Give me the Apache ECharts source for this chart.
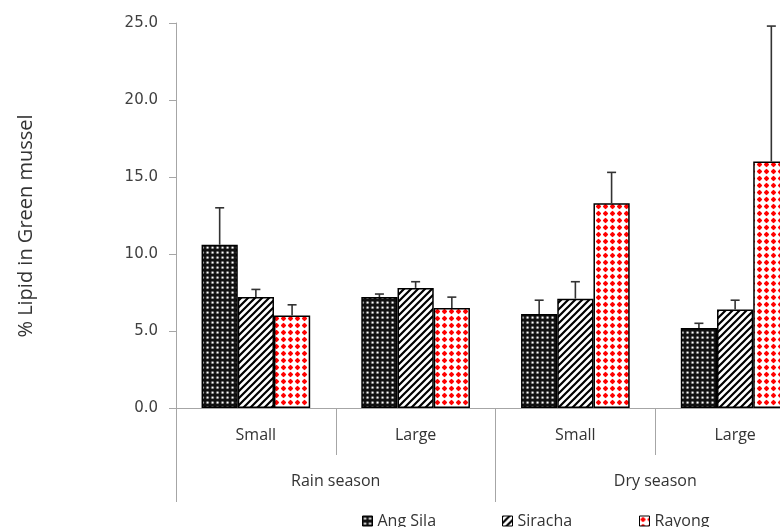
<!DOCTYPE html>
<html>
<head>
<meta charset="utf-8">
<script src="https://cdn.jsdelivr.net/npm/echarts@6/dist/echarts.min.js"></script>
<style>
  html, body { margin: 0; padding: 0; background: #fff; overflow: hidden; }
  #chart { width: 840px; height: 527px; }
</style>
</head>
<body>
<div id="chart"></div>
<script>
// Mussel lipid content by season and size class
const sizeClasses = ['Small', 'Large', 'Small', 'Large'];
const seasons = ['Rain season', 'Dry season'];
const siteNames = ['Ang Sila', 'Siracha', 'Rayong'];

const angSila = [10.6, 7.2, 6.1, 5.2];
const siracha = [7.2, 7.8, 7.1, 6.4];
const rayong = [6.0, 6.5, 13.3, 16.0];

const angSilaErr = [2.4, 0.2, 0.9, 0.3];
const sirachaErr = [0.5, 0.4, 1.1, 0.6];
const rayongErr = [0.7, 0.7, 2.0, 8.8];

const yTicks = [0, 5, 10, 15, 20, 25];

// Fill patterns built on small canvases
function tile(size, draw) {
  const c = document.createElement('canvas');
  c.width = size; c.height = size;
  draw(c.getContext('2d'), size);
  return c;
}
const dotsPattern = tile(5, (g, s) => {
  g.fillStyle = '#111'; g.fillRect(0, 0, s, s);
  g.fillStyle = '#8a8a8a';
  g.beginPath(); g.arc(2.5, 2.5, 1.6, 0, Math.PI * 2); g.fill();
  g.fillStyle = '#fff';
  g.fillRect(2, 2, 1.2, 1.2);
});
const hatchPattern = tile(7, (g, s) => {
  g.fillStyle = '#fff'; g.fillRect(0, 0, s, s);
  g.strokeStyle = '#000'; g.lineWidth = 2.2;
  g.beginPath();
  g.moveTo(-1, s + 1); g.lineTo(s + 1, -1);
  g.moveTo(-1, 1); g.lineTo(1, -1);
  g.moveTo(s - 1, s + 1); g.lineTo(s + 1, s - 1);
  g.stroke();
});
const redPattern = tile(7, (g, s) => {
  g.fillStyle = '#fff'; g.fillRect(0, 0, s, s);
  g.fillStyle = '#f00';
  g.beginPath();
  g.moveTo(3.5, 0.8); g.lineTo(6.2, 3.5); g.lineTo(3.5, 6.2); g.lineTo(0.8, 3.5);
  g.closePath(); g.fill();
  g.beginPath(); g.arc(3.5, 3.5, 2.1, 0, Math.PI * 2); g.fill();
});

const fills = [
  { image: dotsPattern, repeat: 'repeat' },
  { image: hatchPattern, repeat: 'repeat' },
  { image: redPattern, repeat: 'repeat' }
];

const values = [angSila, siracha, rayong];
const errors = [angSilaErr, sirachaErr, rayongErr];
const GAP = 0.32;

const barSeries = siteNames.map((name, k) => ({
  name: name,
  type: 'bar',
  xAxisIndex: 0,
  data: values[k],
  barGap: '0%',
  barCategoryGap: (GAP * 100) + '%',
  itemStyle: { color: fills[k], borderColor: '#000', borderWidth: 1.5 },
  emphasis: { disabled: true },
  z: 2
}));

const errSeries = siteNames.map((name, k) => ({
  name: name + ' error',
  type: 'custom',
  xAxisIndex: 0,
  z: 3,
  silent: true,
  clip: false,
  data: values[k].map((v, i) => [i, v, errors[k][i]]),
  renderItem: function (params, api) {
    const i = api.value(0), v = api.value(1), e = api.value(2);
    const base = api.coord([i, v]);
    const top = api.coord([i, v + e]);
    const band = api.size([1, 0])[0];
    const bw = band * (1 - GAP) / 3;
    const cx = base[0] + (k - 1) * bw;
    const st = { stroke: '#333', lineWidth: 1.6 };
    return {
      type: 'group',
      children: [
        { type: 'line', shape: { x1: cx, y1: base[1], x2: cx, y2: top[1] }, style: st },
        { type: 'line', shape: { x1: cx - 4.5, y1: top[1], x2: cx + 4.5, y2: top[1] }, style: st }
      ]
    };
  }
}));

const axisGray = '#a6a6a6';
const textFont = 'Open Sans';
const legendLeft = [362, 502, 639];

// one legend entry per site, each placed on its own
const legends = siteNames.map((name, k) => ({
  data: [name],
  left: legendLeft[k],
  top: 513,
  padding: 0,
  itemWidth: 10,
  itemHeight: 10,
  icon: 'rect',
  textStyle: { fontFamily: textFont, fontSize: 16, color: '#333' },
  itemStyle: { borderColor: '#000', borderWidth: 1 }
}));

const chart = echarts.init(document.getElementById('chart'), null, { renderer: 'canvas' });
chart.setOption({
  animation: false,
  backgroundColor: '#fff',
  // the plot area runs past the right edge of the visible page
  grid: { left: 176, top: 23, height: 385, width: 639, containLabel: false },
  legend: legends,
  xAxis: [
    {
      type: 'category',
      data: sizeClasses,
      position: 'bottom',
      axisLine: { lineStyle: { color: axisGray, width: 1 } },
      axisTick: { show: true, interval: 0, length: 47, lineStyle: { color: axisGray } },
      axisLabel: { interval: 0, margin: 19, fontFamily: textFont, fontSize: 16, color: '#333' },
      splitLine: { show: false }
    },
    {
      type: 'category',
      data: seasons,
      position: 'bottom',
      axisLine: { show: false },
      axisTick: { show: true, interval: 0, length: 94, lineStyle: { color: axisGray } },
      axisLabel: { interval: 0, margin: 65, fontFamily: textFont, fontSize: 16, color: '#333' },
      splitLine: { show: false }
    }
  ],
  yAxis: {
    type: 'value',
    min: yTicks[0],
    max: yTicks[yTicks.length - 1],
    interval: yTicks[1] - yTicks[0],
    name: '% Lipid in Green mussel',
    nameLocation: 'middle',
    nameGap: 140,
    nameRotate: 90,
    nameTextStyle: { fontFamily: textFont, fontSize: 20, color: '#333', padding: [0, 21, 0, 0] },
    axisLine: { show: true, lineStyle: { color: axisGray } },
    axisTick: { show: true, length: 7, lineStyle: { color: axisGray } },
    axisLabel: {
      margin: 18, fontFamily: 'DejaVu Sans', fontSize: 15, color: '#404040',
      formatter: v => v.toFixed(1)
    },
    splitLine: { show: false }
  },
  series: barSeries.concat(errSeries)
});
</script>
</body>
</html>
